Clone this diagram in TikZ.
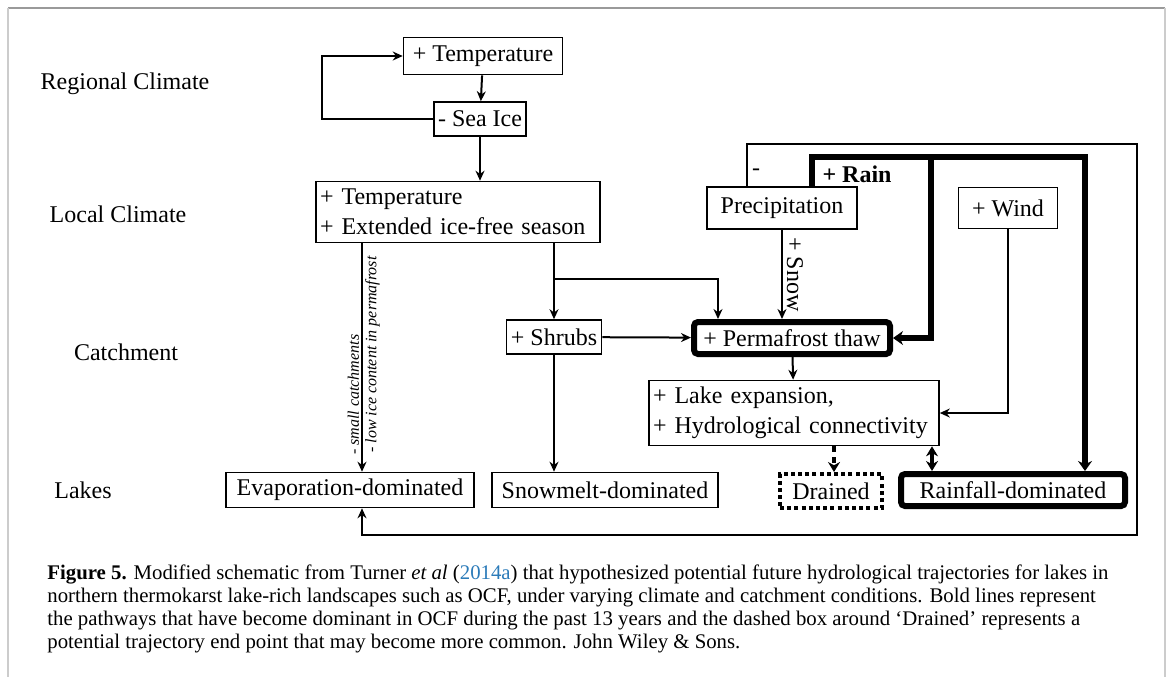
\documentclass[tikz,border=0pt]{standalone}
\usepackage{fontspec}
\setmainfont{Liberation Serif}
\usetikzlibrary{arrows.meta}

\definecolor{linkblue}{HTML}{2B7BB9}
\definecolor{framegray}{HTML}{9A9A9A}

\tikzset{
  box/.style={draw, line width=0.8pt, inner sep=2pt, font=\fontsize{12}{15}\selectfont},
  boldbox/.style={box, line width=3pt, rounded corners=2pt},
  dotbox/.style={box, line width=2pt, dash pattern=on 2pt off 1.6pt},
  level/.style={font=\fontsize{12}{15}\selectfont},
  link/.style={line width=1pt, -{Stealth[length=5pt,width=4.5pt]}},
  thinlink/.style={line width=0.8pt, -{Stealth[length=5pt,width=4.5pt]}},
  boldlink/.style={line width=3pt, -{Stealth[length=5pt,width=7pt]}},
  tag/.style={font=\fontsize{8}{10}\selectfont\itshape, inner sep=1pt},
}

\begin{document}
\begin{tikzpicture}[x=0.5pt,y=-0.5pt]
    \useasboundingbox (0,0) rectangle (1171,677);
    % page frame
    \draw [framegray, line width=1pt] (8,8) -- (1165,8);
    \draw [gray!40, line width=1pt] (8,8) -- (8,677);
    \draw [gray!40, line width=1pt] (1165,8) -- (1165,677);

    % levels
    \node [level] (regional) at (125,84) {Regional Climate};
    \node [level] (local) at (118,214) {Local Climate};
    \node [level] (catchment) at (126,352) {Catchment};
    \node [level] (lakes) at (83,490) {Lakes};

    % boxes
    \node [box, minimum width=79.5pt, minimum height=18.5pt] (temp1) at (483,56) {+ Temperature};
    \node [box, minimum width=45.5pt, minimum height=17pt] (seaice) at (480,119) {- Sea Ice};
    \node [box, text width=138pt, align=left, minimum height=30.5pt] (localtemp) at (458,212)
        {+ Temperature\\+ Extended ice-free season};
    \node [box, minimum width=75pt, minimum height=21pt] (precip) at (782,208) {Precipitation};
    \node [box, minimum width=49.5pt, minimum height=20.5pt] (wind) at (1008,208) {+ Wind};
    \node [box, minimum width=47.5pt, minimum height=17pt] (shrubs) at (554,337) {+ Shrubs};
    \node [boldbox, minimum width=98pt, minimum height=16pt] (permafrost) at (792,338) {+ Permafrost thaw};
    \node [box, text width=141pt, align=left, minimum height=32.5pt] (lakeexp) at (794,413)
        {+ Lake expansion,\\+ Hydrological connectivity};
    \node [box, minimum width=124pt, minimum height=17.5pt] (evap) at (350,490) {Evaporation-dominated};
    \node [box, minimum width=113pt, minimum height=17.5pt] (snowmelt) at (605,490) {Snowmelt-dominated};
    \node [dotbox, minimum width=51pt, minimum height=17pt] (drained) at (831,491) {Drained};
    \node [boldbox, minimum width=112pt, minimum height=16pt] (rainfall) at (1013,490) {Rainfall-dominated};

    % corner points
    \coordinate (loopW) at (322,0);
    \coordinate (evapx) at (362,0);
    \coordinate (fork) at (554,279);
    \coordinate (forkx) at (718,0);
    \coordinate (thinx) at (747,0);
    \coordinate (thinNE) at (1137,144);
    \coordinate (thinSW) at (362,535);
    \coordinate (boldx) at (812,0);
    \coordinate (boldNE) at (1085,157);
    \coordinate (boldmid) at (931,157);
    \coordinate (dashx) at (834,0);
    \coordinate (dblx) at (932,0);

    % regional climate
    \draw [link] (temp1) -- (seaice);
    \draw [link] (seaice.west) -- (seaice.west -| loopW) |- (temp1.west);
    \draw [link] (seaice.south) -- (seaice.south |- localtemp.north);

    % local climate to lakes
    \draw [link] (localtemp.south -| evapx) -- (evap.north -| evapx)
        node [tag, pos=0.93, rotate=90, anchor=south west, xshift=-1pt] {- small catchments}
        node [tag, pos=0.93, rotate=90, anchor=north west] {- low ice content in permafrost};
    \draw [link] (localtemp.south -| fork) -- (shrubs.north);
    \draw [link] (fork) -| (permafrost.north -| forkx);
    \draw [link] (shrubs) -- (permafrost);
    \draw [link] (shrubs.south) -- (shrubs.south |- snowmelt.north);

    % precipitation
    \draw [link] (precip.south) -- (precip.south |- permafrost.north)
        node [midway, rotate=-90, anchor=south, font=\fontsize{12}{14}\selectfont, inner sep=2pt] {+ Snow};
    \draw [thinlink] (precip.north -| thinx) |- (thinNE) |- (thinSW) -- (evap.south -| thinSW);
    \node [level] (minus) at (756,172) {-};
    \draw [boldlink] (precip.north -| boldx) |- (boldNE) -- (rainfall.north -| boldNE);
    \draw [boldlink] (boldmid) |- (permafrost.east);
    \node [level, font=\fontsize{12}{15}\selectfont\bfseries] (rain) at (857,174) {+ Rain};

    % wind and lakes
    \draw [link] (wind.south) |- (lakeexp.east);
    \draw [link] (permafrost) -- (lakeexp);
    \draw [line width=2pt, dash pattern=on 3pt off 2.5pt, -{Stealth[length=5pt,width=6pt]}]
        (lakeexp.south -| dashx) -- (drained.north -| dashx);
    \draw [line width=2pt, {Stealth[length=5pt,width=6pt]}-{Stealth[length=5pt,width=6pt]}]
        (lakeexp.south -| dblx) -- (rainfall.north -| dblx);

    % caption
    \node [anchor=north west, align=left, inner sep=0pt, font=\fontsize{10.4}{11.6}\selectfont] (caption) at (47,564)
        {\textbf{Figure 5.} Modified schematic from Turner \textit{et al} (\textcolor{linkblue}{2014a}) that hypothesized potential future hydrological trajectories for lakes in\\
         northern thermokarst lake-rich landscapes such as OCF, under varying climate and catchment conditions. Bold lines represent\\
         the pathways that have become dominant in OCF during the past 13 years and the dashed box around `Drained' represents a\\
         potential trajectory end point that may become more common. John Wiley \& Sons.};
\end{tikzpicture}
\end{document}
